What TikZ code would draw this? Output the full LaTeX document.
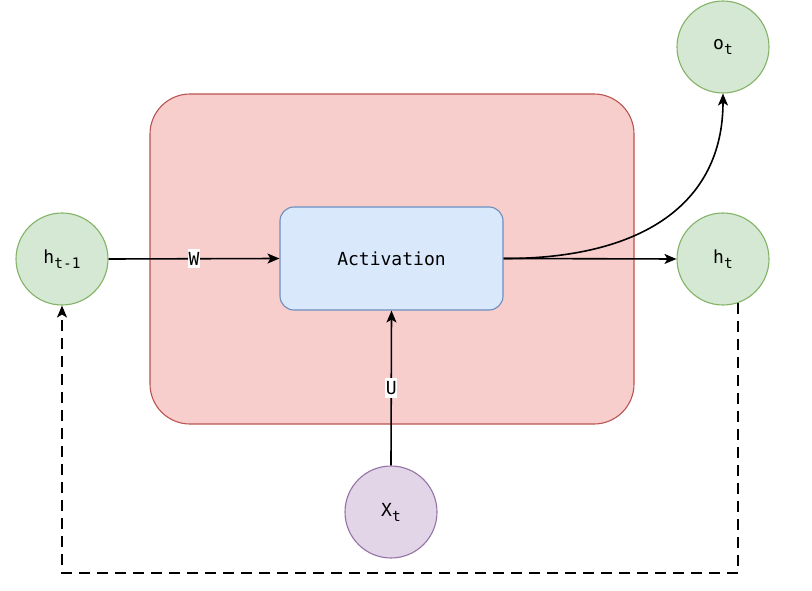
\documentclass[tikz,border=0pt]{standalone}
\usepackage{fontspec}
\setmonofont{DejaVu Sans Mono}
\usetikzlibrary{arrows.meta,calc}

\definecolor{cellfill}{HTML}{F8CECC}
\definecolor{cellline}{HTML}{B85450}
\definecolor{actfill}{HTML}{DAE8FC}
\definecolor{actline}{HTML}{6C8EBF}
\definecolor{statefill}{HTML}{D5E8D4}
\definecolor{stateline}{HTML}{82B366}
\definecolor{inputfill}{HTML}{E1D5E7}
\definecolor{inputline}{HTML}{9673A6}

% lowered, smaller index text
\newcommand{\idx}[1]{\raisebox{-5pt}{\fontsize{14.5}{14.5}\selectfont #1}}

\tikzset{
  basefont/.style={font=\fontsize{18}{21}\ttfamily},
  cellbox/.style={draw=cellline, fill=cellfill, line width=1.1pt, rounded corners=40pt,
                  minimum width=484pt, minimum height=330pt},
  actbox/.style={draw=actline, fill=actfill, line width=1.1pt, rounded corners=14pt,
                 minimum width=223pt, minimum height=103pt, basefont},
  statenode/.style={circle, draw=stateline, fill=statefill, line width=1.1pt,
                    minimum size=92pt, inner sep=0pt, basefont},
  inputnode/.style={circle, draw=inputline, fill=inputfill, line width=1.1pt,
                    minimum size=92pt, inner sep=0pt, basefont},
  flow/.style={line width=1.6pt, -{Stealth[length=12pt,width=10pt,inset=3pt]}},
  loopback/.style={flow, dash pattern=on 11pt off 7pt},
  weight/.style={fill=white, inner xsep=0.5pt, inner ysep=3pt, basefont}
}

\begin{document}
\begin{tikzpicture}[x=1pt, y=-1pt]
\useasboundingbox (0,0) rectangle (812,591);

% recurrent cell
\node[cellbox] (cell) at (392,259) {};
\node[actbox] (act) at (391.5,258.5) {Activation};

% states, output and input
\node[statenode] (hprev) at (62,259) {h\idx{t-1}};
\node[statenode] (hnext) at (723,259) {h\idx{t}};
\node[statenode] (out)   at (723,47)  {o\idx{t}};
\node[inputnode] (xin)   at (391,512) {X\idx{t}};

% connections
\draw[flow] (hprev.east) -- node[weight] {W} (act.west);
\draw[flow] (xin.north) -- node[weight] {U} (act.south);
\draw[flow] (act.east) -- (hnext.west);
\draw[flow] (act.east) .. controls (640,259) and (723,205) .. (out.south);

% hidden state fed back to the next step
\coordinate (br) at (hnext.-71);
\coordinate (c1) at (br |- 0,573);
\coordinate (c2) at (hprev.center |- 0,573);
\draw[loopback] (br) -- (c1) -- (c2) -- (hprev.south);
\end{tikzpicture}
\end{document}
